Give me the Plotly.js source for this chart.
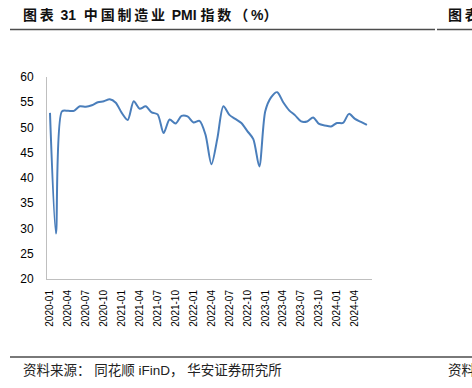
<!DOCTYPE html>
<html><head><meta charset="utf-8">
<script src="https://cdn.plot.ly/plotly-3.0.1.min.js"></script>
<style>html,body{margin:0;padding:0;background:#fff;}#c{width:472px;height:388px;}</style>
</head><body><div id="c"></div>
<script>
const months = [
"2020-01","2020-02","2020-03","2020-04","2020-05","2020-06","2020-07","2020-08","2020-09","2020-10","2020-11","2020-12",
"2021-01","2021-02","2021-03","2021-04","2021-05","2021-06","2021-07","2021-08","2021-09","2021-10","2021-11","2021-12",
"2022-01","2022-02","2022-03","2022-04","2022-05","2022-06","2022-07","2022-08","2022-09","2022-10","2022-11","2022-12",
"2023-01","2023-02","2023-03","2023-04","2023-05","2023-06","2023-07","2023-08","2023-09","2023-10","2023-11","2023-12",
"2024-01","2024-02","2024-03","2024-04","2024-05","2024-06"];
const pmi = [
52.9,29.0,53.2,53.3,53.3,54.2,54.1,54.4,55.0,55.2,55.6,54.9,
52.9,51.5,55.2,53.7,54.2,53.0,52.6,48.9,51.6,50.8,52.3,52.2,
51.0,51.3,48.6,42.7,47.9,54.2,52.5,51.7,50.9,49.3,47.7,42.3,
53.2,56.0,57.0,55.0,53.4,52.4,51.2,51.2,52.0,50.7,50.4,50.2,
50.9,50.9,52.7,51.7,51.1,50.5];
const tickLabels = ["2020-01","2020-04","2020-07","2020-10","2021-01","2021-04","2021-07","2021-10",
"2022-01","2022-04","2022-07","2022-10","2023-01","2023-04","2023-07","2023-10","2024-01","2024-04"];
const titleText = "图表 31  中国制造业 PMI 指数（%）";
const sourceText = "资料来源： 同花顺 iFinD， 华安证券研究所";

const W = 472, H = 388, L = 47, R = 100, T = 77, B = 109;
const pw = W - L - R, ph = H - T - B;
const px = x => (x - L) / pw;
const py = y => 1 - (y - T) / ph;
const FONT = '"Liberation Sans", Arial, "Noto Sans CJK SC", sans-serif';
// add thin spacing between CJK characters of the title
const spaced = s => Array.from(s).map(ch => /[\u3000-\u9fff\uff00-\uffef]/.test(ch) ? ch + '\u2009' : ch).join('');

const data = [{
  x: months, y: pmi, type: 'scatter', mode: 'lines',
  line: {color: '#4A7EBB', width: 2, shape: 'spline', smoothing: 0.8},
  hoverinfo: 'skip'
}];

const layout = {
  width: W, height: H,
  margin: {l: L, r: R, t: T, b: B, pad: 0},
  paper_bgcolor: '#fff', plot_bgcolor: '#fff',
  showlegend: false,
  font: {family: FONT, color: '#000', size: 12},
  xaxis: {
    type: 'category', range: [-0.5, 53.85],
    tickmode: 'array', tickvals: tickLabels, ticktext: tickLabels,
    tickangle: -90, tickfont: {size: 10, color: '#000'},
    showgrid: false, zeroline: false, showline: true, linecolor: '#BFBFBF', linewidth: 1,
    ticks: '', ticklabelstandoff: 6, fixedrange: true
  },
  yaxis: {
    range: [20, 60], tickmode: 'array', tickvals: [20,25,30,35,40,45,50,55,60],
    tickfont: {size: 12, color: '#000'},
    showgrid: false, zeroline: false, showline: true, linecolor: '#BFBFBF', linewidth: 1,
    ticks: '', ticklabelstandoff: 10, fixedrange: true
  },
  shapes: [
    {type: 'line', xref: 'paper', yref: 'paper', x0: px(10), x1: px(435), y0: py(29.5), y1: py(29.5), line: {color: '#4d4d4d', width: 1.5}},
    {type: 'line', xref: 'paper', yref: 'paper', x0: px(437), x1: px(472), y0: py(29.5), y1: py(29.5), line: {color: '#4d4d4d', width: 1.5}},
    {type: 'line', xref: 'paper', yref: 'paper', x0: px(10), x1: px(472), y0: py(357), y1: py(357), line: {color: '#4d4d4d', width: 1.5}}
  ],
  annotations: [
    {text: '<b>' + spaced(titleText) + '</b>', xref: 'paper', yref: 'paper', x: px(21), y: py(15.5), xanchor: 'left', yanchor: 'middle', showarrow: false,
     font: {family: FONT, size: 14, color: '#111'}},
    {text: '<b>' + spaced('图表') + '</b>', xref: 'paper', yref: 'paper', x: px(446), y: py(15.5), xanchor: 'left', yanchor: 'middle', showarrow: false,
     font: {family: FONT, size: 14, color: '#111'}},
    {text: sourceText, xref: 'paper', yref: 'paper', x: px(21), y: py(370), xanchor: 'left', yanchor: 'middle', showarrow: false,
     font: {family: FONT, size: 13.5, color: '#222'}},
    {text: '资料', xref: 'paper', yref: 'paper', x: px(446), y: py(370), xanchor: 'left', yanchor: 'middle', showarrow: false,
     font: {family: FONT, size: 13.5, color: '#222'}}
  ]
};
Plotly.newPlot('c', data, layout, {staticPlot: true, displayModeBar: false});
</script></body></html>
